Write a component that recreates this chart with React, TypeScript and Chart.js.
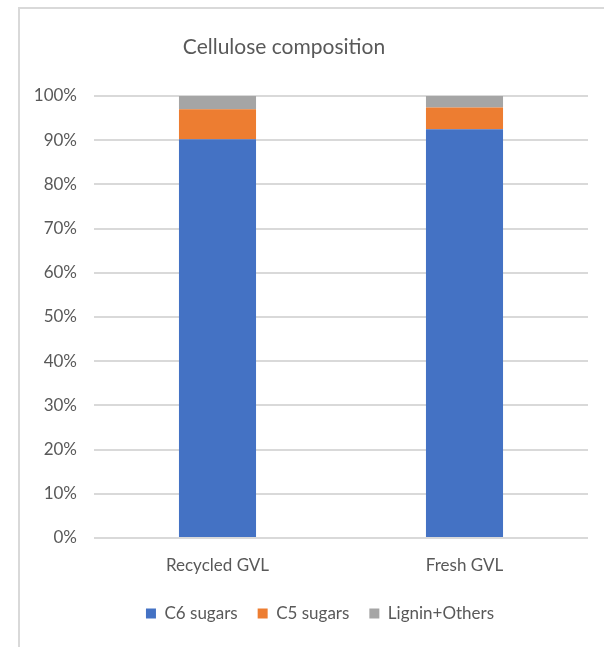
import React, { useEffect, useRef } from "react";
import { Chart, registerables } from "chart.js";

Chart.register(...registerables);

const categories = ["Recycled GVL", "Fresh GVL"];
const c6Sugars = [90.2, 92.5];
const c5Sugars = [6.8, 4.9];
const ligninOthers = [3.0, 2.6];
const yTicks = [0, 10, 20, 30, 40, 50, 60, 70, 80, 90, 100];

const FONT = "Lato, 'Open Sans', sans-serif";
const TEXT = "#595959";

const titlePlugin = {
  id: "customTitle",
  afterLayout(chart: any) {
    const lg = chart.legend;
    if (lg) {
      lg.left += 11;
      lg.right += 11;
      lg.top += 1;
      lg.bottom += 1;
    }
  },
  afterDraw(chart: any) {
    const ctx = chart.ctx;
    ctx.save();
    ctx.fillStyle = TEXT;
    ctx.font = `21px ${FONT}`;
    ctx.textAlign = "center";
    ctx.textBaseline = "middle";
    ctx.fillText("Cellulose composition", 284, 47);
    ctx.restore();
  },
};

export default function App() {
  const ref = useRef<HTMLCanvasElement>(null);
  useEffect(() => {
    if (!ref.current) return;
    const chart = new Chart(ref.current, {
      type: "bar",
      data: {
        labels: categories,
        datasets: [
          { label: "C6 sugars", data: c6Sugars, backgroundColor: "#4472C4" },
          { label: "C5 sugars", data: c5Sugars, backgroundColor: "#ED7D31" },
          { label: "Lignin+Others", data: ligninOthers, backgroundColor: "#A5A5A5" },
        ],
      },
      options: {
        responsive: false,
        animation: false,
        layout: { padding: { top: 96, left: 30, right: 16, bottom: 16 } },
        datasets: { bar: { categoryPercentage: 1, barPercentage: 0.312 } },
        scales: {
          x: {
            stacked: true,
            grid: { display: false, drawTicks: false },
            border: { display: false },
            ticks: { color: TEXT, font: { family: FONT, size: 17 }, padding: 17 },
            afterFit: (s: any) => { s.height = 46; },
          },
          y: {
            stacked: true,
            min: 0,
            max: 100,
            afterBuildTicks: (s: any) => { s.ticks = yTicks.map((v) => ({ value: v })); },
            grid: { color: "#D9D9D9", lineWidth: 2, drawTicks: false },
            border: { display: false },
            ticks: {
              color: TEXT,
              font: { family: FONT, size: 17 },
              padding: 17,
              callback: (v: any) => v + "%",
            },
            afterFit: (s: any) => { s.width = 64; },
          },
        },
        plugins: {
          title: { display: false },
          tooltip: { enabled: false },
          legend: {
            position: "bottom",
            labels: {
              color: TEXT,
              font: { family: FONT, size: 17 },
              boxWidth: 10,
              boxHeight: 10,
              padding: 20,
            },
          },
        },
      },
      plugins: [titlePlugin],
    });
    return () => chart.destroy();
  }, []);
  return (
    <div style={{ position: "fixed", left: 0, top: 0, width: 604, height: 647, background: "#fff" }}>
      <div
        style={{
          position: "absolute",
          left: 18,
          top: 7,
          width: 600,
          height: 660,
          borderLeft: "2px solid #D9D9D9",
          borderTop: "2px solid #D9D9D9",
        }}
      />
      <canvas ref={ref} width={604} height={647} style={{ position: "absolute", left: 0, top: 0 }} />
    </div>
  );
}
